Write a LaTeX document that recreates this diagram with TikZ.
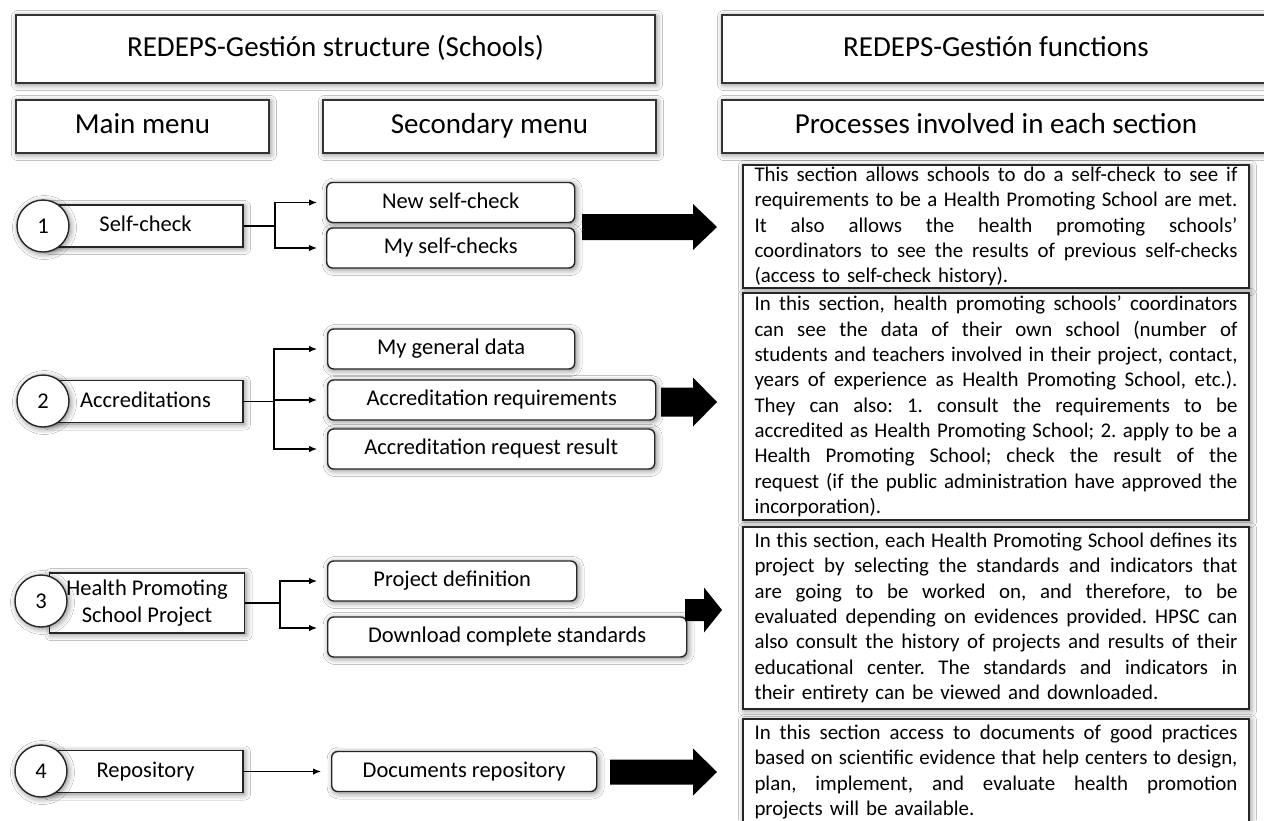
\documentclass[tikz,border=0pt]{standalone}
\usepackage{fontspec}
\setmainfont{Carlito}
\usepackage{tikz}
\usetikzlibrary{arrows.meta, shadows.blur}
\setlength{\parindent}{0pt}
\newcommand{\jl}[1]{\makebox[483pt][s]{\spaceskip=0pt\xspaceskip=0pt\relax #1}\\}

\begin{document}
\begin{tikzpicture}[x=1pt, y=-1pt,
    every node/.style={inner sep=0pt},
    glow/.style={blur shadow={shadow blur steps=6, shadow xshift=1.5pt, shadow yshift=-1.5pt, shadow blur radius=6pt, shadow opacity=50}},
    bigline/.style={text height=21.75pt, text depth=7.25pt},
    oneline/.style={text height=16.9pt, text depth=5.6pt},
    head/.style={draw=black!80, line width=1.4pt, fill=white, glow, bigline, font=\fontsize{29}{34}\selectfont},
    mainbox/.style={draw=black!85, line width=1.4pt, fill=white, glow, minimum width=195pt, align=center, font=\fontsize{22.5}{27.5}\selectfont},
    subbox/.style={draw=black!85, line width=1.4pt, fill=white, glow, oneline, rounded corners=6pt, minimum height=40pt, font=\fontsize{22.5}{27.5}\selectfont},
    num/.style={circle, draw=black!85, line width=1.4pt, fill=white, glow, text height=18pt, text depth=3.6pt, minimum size=52pt, font=\fontsize{22.5}{27.5}\selectfont},
    desc/.style={draw=black!85, line width=1.4pt, fill=white, glow, text width=483pt, inner xsep=11.5pt, align=left, font=\fontsize{20.9}{25.35}\selectfont\frenchspacing},
    conn/.style={line width=1.2pt},
    tip/.style={conn, -{Latex[length=8pt, width=6.5pt]}}
  ]
  \useasboundingbox (0,0) rectangle (1264,820);
  \fill[white] (0,0) rectangle (1264,820);

  \node[head, minimum width=639pt, minimum height=68pt] (hl) at (335.5,49) {REDEPS-Gestión structure (Schools)};
  \node[head, minimum width=548pt, minimum height=68pt] (hr) at (996,49) {REDEPS-Gestión functions};
  \node[head, minimum width=253pt, minimum height=53pt] (mm) at (142.5,126.5) {Main menu};
  \node[head, minimum width=333pt, minimum height=53pt] (sm) at (489.5,126.5) {Secondary menu};
  \node[head, minimum width=548pt, minimum height=53pt] (pr) at (996,126.5) {Processes involved in each section};

  \node[mainbox, oneline, minimum height=42pt] (m1) at (145.5,226) {Self-check};
  \node[mainbox, oneline, minimum height=42pt] (m2) at (145.5,401.5) {Accreditations};
  \node[mainbox, minimum height=60pt] (m3) at (147,603) {Health Promoting\\School Project};
  \node[mainbox, oneline, minimum height=42pt] (m4) at (145.5,771.5) {Repository};

  \foreach \i/\x/\y in {1/43/226, 2/43/401, 3/41/601, 4/41/771}
    \node[num] (c\i) at (\x,\y) {\i};

  \foreach \n/\x/\y/\w/\t in {s11/326/202.5/248/New self-check, s12/326/248/248/My self-checks,
      s21/327/349/247/My general data, s22/327/400/328/Accreditation requirements,
      s23/327/449/327/Accreditation request result, s31/327/581/249/Project definition,
      s32/327/637/359/Download complete standards, s41/331/771.5/265/Documents repository}
    \node[subbox, minimum width=\w pt, anchor=west] (\n) at (\x,\y) {\t};

  \coordinate (j1) at (275,226);
  \coordinate (j2) at (274,401.5);
  \coordinate (j3) at (280,603);
  \draw[conn] (m1.east) -- (j1);
  \draw[conn] (m2.east) -- (j2);
  \draw[conn] (m3.east) -- (j3);
  \foreach \t in {s11, s12}
    \draw[tip] (j1) |- ([xshift=-9pt]\t.west);
  \foreach \t in {s21, s22, s23}
    \draw[tip] (j2) |- ([xshift=-10pt]\t.west);
  \draw[tip] (j3) |- ([xshift=-10pt]s31.west);
  \draw[tip] (j3) |- ([xshift=-10pt, yshift=9pt]s32.west);
  \draw[tip] (m4.east) -- ([xshift=-10pt]s41.west);

  \foreach \xa/\xb/\y/\s/\h/\l in {582/717/227/13/23/24, 661/717/402/14.5/24.5/24,
      685/722/610/11/22.5/18, 610/717/772/12.5/23.5/24}
    \fill[black] (\xa,\y-\s) -- (\xb-\l,\y-\s) -- (\xb-\l,\y-\h) -- (\xb,\y)
      -- (\xb-\l,\y+\h) -- (\xb-\l,\y+\s) -- (\xa,\y+\s) -- cycle;

  \node[desc, minimum height=123pt] (d1) at (996,226.5) {%
    \jl{This section allows schools to do a self-check to see if}
    \jl{requirements to be a Health Promoting School are met.}
    \jl{It also allows the health promoting schools’}
    \jl{coordinators to see the results of previous self-checks}
    (access to self-check history).};
  \node[desc, minimum height=227pt] (d2) at (996,406.5) {%
    \jl{In this section, health promoting schools’ coordinators}
    \jl{can see the data of their own school (number of}
    \jl{students and teachers involved in their project, contact,}
    \jl{years of experience as Health Promoting School, etc.).}
    \jl{They can also: 1. consult the requirements to be}
    \jl{accredited as Health Promoting School; 2. apply to be a}
    \jl{Health Promoting School; check the result of the}
    \jl{request (if the public administration have approved the}
    incorporation).};
  \node[desc, minimum height=182pt] (d3) at (996,618) {%
    \jl{In this section, each Health Promoting School defines its}
    \jl{project by selecting the standards and indicators that}
    \jl{are going to be worked on, and therefore, to be}
    \jl{evaluated depending on evidences provided. HPSC can}
    \jl{also consult the history of projects and results of their}
    \jl{educational center. The standards and indicators in}
    their entirety can be viewed and downloaded.};
  \node[desc, minimum height=106pt] (d4) at (996,772) {%
    \jl{In this section access to documents of good practices}
    \jl{based on scientific evidence that help centers to design,}
    \jl{plan, implement, and evaluate health promotion}
    projects will be available.};
\end{tikzpicture}
\end{document}
